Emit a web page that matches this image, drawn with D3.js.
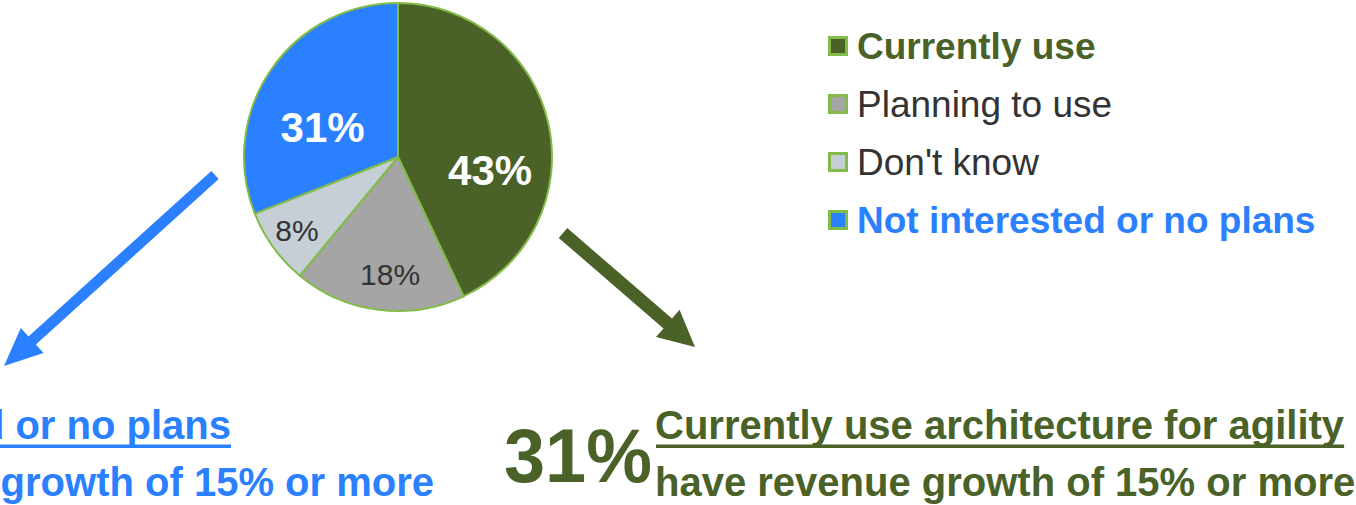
<!DOCTYPE html>
<html>
<head>
<meta charset="utf-8">
<script src="https://cdn.jsdelivr.net/npm/d3@7"></script>
<style>
  html, body { margin: 0; padding: 0; background: #fff; }
  svg { display: block; font-family: "Liberation Sans", Arial, sans-serif; }
</style>
</head>
<body>
<svg id="chart" width="1356" height="505"></svg>
<script>
// data
const categories = ["Currently use", "Planning to use", "Don't know", "Not interested or no plans"];
const shares = [43, 18, 8, 31];
const sliceLabels = ["43%", "18%", "8%", "31%"];
const calloutValues = ["31%"];
const calloutLines = ["Currently use architecture for agility", "have revenue growth of 15% or more"];
const leftLines = ["Not interested or no plans", "have revenue growth of 15% or more"];

const COLORS = {
  green: "#4a6127",
  gray: "#a5a5a5",
  light: "#c6ced6",
  blue: "#2b80ff",
  edge: "#82bb48",
  text: "#333333"
};
const fills = [COLORS.green, COLORS.gray, COLORS.light, COLORS.blue];
const legendFont = [
  { color: COLORS.green, weight: "bold" },
  { color: COLORS.text, weight: "normal" },
  { color: COLORS.text, weight: "normal" },
  { color: COLORS.blue, weight: "bold" }
];
// label placement: angle nudge (deg) from slice middle, radius, font
const labelPlace = [
  { da: 20.6, r: 93, size: 42, weight: "bold", color: "#fff" },
  { da: -3.3, r: 117, size: 30, weight: "normal", color: COLORS.text },
  { da: 0, r: 125, size: 30, weight: "normal", color: COLORS.text },
  { da: -12.7, r: 81, size: 42, weight: "bold", color: "#fff" }
];

const svg = d3.select("#chart");
const cx = 398, cy = 157, R = 154;

let pie = d3.pie().sort(null).value(d => d);
let arcs = pie(shares);
let arc = d3.arc().innerRadius(0).outerRadius(R);

let g = svg.append("g").attr("transform", `translate(${cx},${cy})`);

g.selectAll("path.slice")
  .data(arcs)
  .enter()
  .append("path")
  .classed("slice", true)
  .attr("d", arc)
  .attr("fill", (d, i) => fills[i])
  .attr("stroke", COLORS.edge)
  .attr("stroke-width", 2)
  .attr("stroke-linejoin", "round");

g.selectAll("text.lbl")
  .data(arcs)
  .enter()
  .append("text")
  .classed("lbl", true)
  .attr("transform", (d, i) => {
    let p = labelPlace[i];
    let a = (d.startAngle + d.endAngle) / 2 + p.da * Math.PI / 180;
    return `translate(${Math.sin(a) * p.r},${-Math.cos(a) * p.r})`;
  })
  .attr("text-anchor", "middle")
  .attr("dy", "0.36em")
  .style("font-size", (d, i) => labelPlace[i].size + "px")
  .style("font-weight", (d, i) => labelPlace[i].weight)
  .attr("fill", (d, i) => labelPlace[i].color)
  .text((d, i) => sliceLabels[i]);

// legend
let legendY = d3.scalePoint().domain(categories).range([46, 220]);
let lg = svg.append("g");
let row = lg.selectAll("g.row")
  .data(categories)
  .enter()
  .append("g")
  .classed("row", true)
  .attr("transform", d => `translate(0,${legendY(d)})`);

row.append("rect")
  .attr("x", 829.5)
  .attr("y", -8.5)
  .attr("width", 17)
  .attr("height", 17)
  .attr("fill", (d, i) => fills[i])
  .attr("stroke", COLORS.edge)
  .attr("stroke-width", 3);

row.append("text")
  .attr("x", 857)
  .attr("dy", "0.36em")
  .style("font-size", "37px")
  .style("font-weight", (d, i) => legendFont[i].weight)
  .attr("fill", (d, i) => legendFont[i].color)
  .text(d => d);

// arrows
function arrow(x0, y0, x1, y1, w, headL, headW, color) {
  let dx = x1 - x0, dy = y1 - y0;
  let len = Math.hypot(dx, dy);
  let ux = dx / len, uy = dy / len;
  let nx = -uy, ny = ux;
  let bx = x1 - ux * headL, by = y1 - uy * headL;
  let pts = [
    [x0 + nx * w / 2, y0 + ny * w / 2],
    [bx + nx * w / 2, by + ny * w / 2],
    [bx + nx * headW / 2, by + ny * headW / 2],
    [x1, y1],
    [bx - nx * headW / 2, by - ny * headW / 2],
    [bx - nx * w / 2, by - ny * w / 2],
    [x0 - nx * w / 2, y0 - ny * w / 2]
  ];
  svg.append("path")
    .attr("d", d3.line()(pts) + "Z")
    .attr("fill", color);
}
arrow(215, 175, 4, 366, 11, 38, 34, COLORS.blue);
arrow(563, 233, 695, 347, 13, 36, 36, COLORS.green);

// right callout
svg.append("text")
  .attr("x", 504)
  .attr("y", 482)
  .attr("textLength", 148)
  .attr("lengthAdjust", "spacingAndGlyphs")
  .style("font-size", "76px")
  .style("font-weight", "bold")
  .attr("fill", COLORS.green)
  .text(calloutValues[0]);

let t1 = svg.append("text")
  .attr("x", 655)
  .attr("y", 439)
  .style("font-size", "40px")
  .style("font-weight", "bold")
  .attr("fill", COLORS.green)
  .text(calloutLines[0]);
let w1 = t1.node().getComputedTextLength();
svg.append("rect")
  .attr("x", 656)
  .attr("y", 444.5)
  .attr("width", w1 - 1)
  .attr("height", 3.5)
  .attr("fill", COLORS.green);

svg.append("text")
  .attr("x", 655)
  .attr("y", 496)
  .style("font-size", "40px")
  .style("font-weight", "bold")
  .attr("fill", COLORS.green)
  .text(calloutLines[1]);

// left callout, cut off by the page edge
let l1 = svg.append("text")
  .attr("x", 231)
  .attr("y", 439)
  .attr("text-anchor", "end")
  .style("font-size", "40px")
  .style("font-weight", "bold")
  .attr("fill", COLORS.blue)
  .text(leftLines[0]);
let lw = l1.node().getComputedTextLength();
svg.append("rect")
  .attr("x", 231 - lw)
  .attr("y", 444.5)
  .attr("width", lw)
  .attr("height", 3.5)
  .attr("fill", COLORS.blue);

svg.append("text")
  .attr("x", 434)
  .attr("y", 496)
  .attr("text-anchor", "end")
  .style("font-size", "40px")
  .style("font-weight", "bold")
  .attr("fill", COLORS.blue)
  .text(leftLines[1]);
</script>
</body>
</html>
